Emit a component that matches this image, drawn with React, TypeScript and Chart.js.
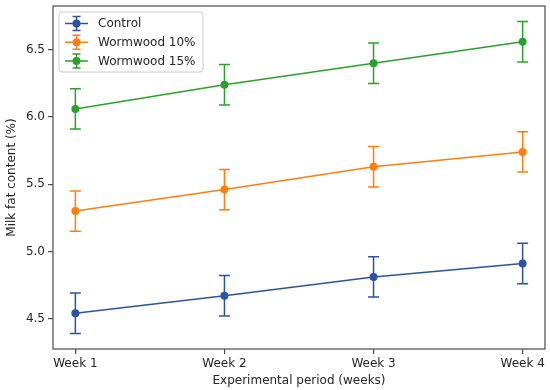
import React, { useEffect, useRef } from 'react';
import { Chart, registerables } from 'chart.js';

Chart.register(...registerables);

const weekLabels = ['Week 1', 'Week 2', 'Week 3', 'Week 4'];
const weekIndex = [0, 1, 2, 3];
const controlValues = [4.54, 4.67, 4.81, 4.91];
const controlErrors = [0.15, 0.15, 0.15, 0.15];
const wormwood10Values = [5.3, 5.46, 5.63, 5.74];
const wormwood10Errors = [0.15, 0.15, 0.15, 0.15];
const wormwood15Values = [6.06, 6.24, 6.4, 6.56];
const wormwood15Errors = [0.15, 0.15, 0.15, 0.15];
const yTickValues = [4.5, 5.0, 5.5, 6.0, 6.5];
const seriesNames = ['Control', 'Wormwood 10%', 'Wormwood 15%'];
const seriesColors = ['#2d52a3', '#ff7f0e', '#2ca02c'];

const FONT = '"DejaVu Sans", sans-serif';
const TEXT = '#262626';

const errorBarPlugin = {
  id: 'errorBars',
  beforeDatasetsDraw(chart: any) {
    const ctx = chart.ctx;
    const ys = chart.scales.y;
    chart.data.datasets.forEach((ds: any, di: number) => {
      const meta = chart.getDatasetMeta(di);
      meta.data.forEach((pt: any, i: number) => {
        const v = ds.data[i].y;
        const e = ds.errors[i];
        const top = ys.getPixelForValue(v + e);
        const bot = ys.getPixelForValue(v - e);
        const x = pt.x;
        ctx.save();
        ctx.strokeStyle = ds.borderColor;
        ctx.lineWidth = 1.5;
        ctx.beginPath();
        ctx.moveTo(x, top);
        ctx.lineTo(x, bot);
        ctx.moveTo(x - 5.5, top);
        ctx.lineTo(x + 5.5, top);
        ctx.moveTo(x - 5.5, bot);
        ctx.lineTo(x + 5.5, bot);
        ctx.stroke();
        ctx.restore();
      });
    });
  },
};

const framePlugin = {
  id: 'frameAndLegend',
  afterDraw(chart: any) {
    const ctx = chart.ctx;
    const a = chart.chartArea;
    ctx.save();
    ctx.strokeStyle = '#4a4a4a';
    ctx.lineWidth = 1.2;
    ctx.strokeRect(a.left, a.top, a.right - a.left, a.bottom - a.top);

    // legend
    const bx = a.left + 6;
    const by = a.top + 6;
    const bw = 144;
    const bh = 60;
    const r = 3;
    ctx.beginPath();
    ctx.moveTo(bx + r, by);
    ctx.lineTo(bx + bw - r, by);
    ctx.quadraticCurveTo(bx + bw, by, bx + bw, by + r);
    ctx.lineTo(bx + bw, by + bh - r);
    ctx.quadraticCurveTo(bx + bw, by + bh, bx + bw - r, by + bh);
    ctx.lineTo(bx + r, by + bh);
    ctx.quadraticCurveTo(bx, by + bh, bx, by + bh - r);
    ctx.lineTo(bx, by + r);
    ctx.quadraticCurveTo(bx, by, bx + r, by);
    ctx.closePath();
    ctx.fillStyle = 'rgba(255,255,255,0.85)';
    ctx.fill();
    ctx.strokeStyle = '#cccccc';
    ctx.lineWidth = 1;
    ctx.stroke();

    seriesNames.forEach((name, i) => {
      const cy = by + 11.5 + i * 18.7;
      const x0 = bx + 6;
      const x1 = bx + 29;
      const xm = (x0 + x1) / 2;
      const col = seriesColors[i];
      ctx.strokeStyle = col;
      ctx.lineWidth = 1.5;
      ctx.beginPath();
      ctx.moveTo(x0, cy);
      ctx.lineTo(x1, cy);
      ctx.moveTo(xm, cy - 7);
      ctx.lineTo(xm, cy + 7);
      ctx.moveTo(xm - 4, cy - 7);
      ctx.lineTo(xm + 4, cy - 7);
      ctx.moveTo(xm - 4, cy + 7);
      ctx.lineTo(xm + 4, cy + 7);
      ctx.stroke();
      ctx.fillStyle = col;
      ctx.beginPath();
      ctx.arc(xm, cy, 4, 0, Math.PI * 2);
      ctx.fill();
      ctx.fillStyle = TEXT;
      ctx.font = `12px ${FONT}`;
      ctx.textBaseline = 'middle';
      ctx.textAlign = 'left';
      ctx.fillText(name, bx + 39, cy + 0.5);
    });
    ctx.restore();
  },
};

const bgPlugin = {
  id: 'bg',
  beforeDraw(chart: any) {
    const ctx = chart.ctx;
    ctx.save();
    ctx.fillStyle = '#ffffff';
    ctx.fillRect(0, 0, chart.width, chart.height);
    ctx.restore();
  },
};

function makeSeries(values: number[]) {
  return values.map((v, i) => ({ x: weekIndex[i], y: v }));
}

export default function App() {
  const ref = useRef<HTMLCanvasElement>(null);

  useEffect(() => {
    if (!ref.current) return;
    const valuesList = [controlValues, wormwood10Values, wormwood15Values];
    const errorsList = [controlErrors, wormwood10Errors, wormwood15Errors];
    const chart = new Chart(ref.current, {
      type: 'line',
      data: {
        datasets: seriesNames.map((name, i) => ({
          label: name,
          data: makeSeries(valuesList[i]),
          errors: errorsList[i],
          borderColor: seriesColors[i],
          backgroundColor: seriesColors[i],
          pointBackgroundColor: seriesColors[i],
          pointBorderColor: seriesColors[i],
          pointRadius: 4,
          pointBorderWidth: 0,
          borderWidth: 1.5,
          tension: 0,
          fill: false,
        })) as any,
      },
      options: {
        animation: false,
        responsive: false,
        maintainAspectRatio: false,
        layout: { padding: { top: 6, right: 5, left: 5, bottom: 2 } },
        plugins: {
          legend: { display: false },
          tooltip: { enabled: false },
        },
        scales: {
          x: {
            type: 'linear',
            min: -0.15,
            max: 3.15,
            afterBuildTicks: (s: any) => {
              s.ticks = weekIndex.map((v) => ({ value: v }));
            },
            afterFit: (s: any) => {
              s.height = 39;
              s.paddingLeft = 0;
              s.paddingRight = 0;
            },
            ticks: {
              callback: (v: any) => weekLabels[Math.round(Number(v))],
              font: { family: FONT, size: 12 },
              color: TEXT,
              padding: 3,
              maxRotation: 0,
              autoSkip: false,
            },
            grid: {
              display: true,
              drawOnChartArea: false,
              drawTicks: true,
              tickLength: 5,
              color: '#4a4a4a',
              lineWidth: 1.2,
            },
            border: { display: false },
            title: {
              display: true,
              text: 'Experimental period (weeks)',
              font: { family: FONT, size: 12 },
              color: TEXT,
              padding: { top: 2, bottom: 0 },
            },
          },
          y: {
            type: 'linear',
            min: 4.274,
            max: 6.826,
            afterBuildTicks: (s: any) => {
              s.ticks = yTickValues.map((v) => ({ value: v }));
            },
            afterFit: (s: any) => {
              s.width = 48;
              s.paddingTop = 0;
              s.paddingBottom = 0;
            },
            ticks: {
              callback: (v: any) => Number(v).toFixed(1),
              font: { family: FONT, size: 12 },
              color: TEXT,
              padding: 3,
            },
            grid: {
              display: true,
              drawOnChartArea: false,
              drawTicks: true,
              tickLength: 5,
              color: '#4a4a4a',
              lineWidth: 1.2,
            },
            border: { display: false },
            title: {
              display: true,
              text: 'Milk fat content (%)',
              font: { family: FONT, size: 12 },
              color: TEXT,
              padding: { top: 0, bottom: 2 },
            },
          },
        },
      },
      plugins: [bgPlugin, errorBarPlugin, framePlugin],
    } as any);
    return () => chart.destroy();
  }, []);

  return (
    <div style={{ position: 'fixed', left: 0, top: 0, width: 550, height: 390, background: '#fff' }}>
      <canvas ref={ref} width={550} height={390} style={{ width: 550, height: 390, display: 'block' }} />
    </div>
  );
}
